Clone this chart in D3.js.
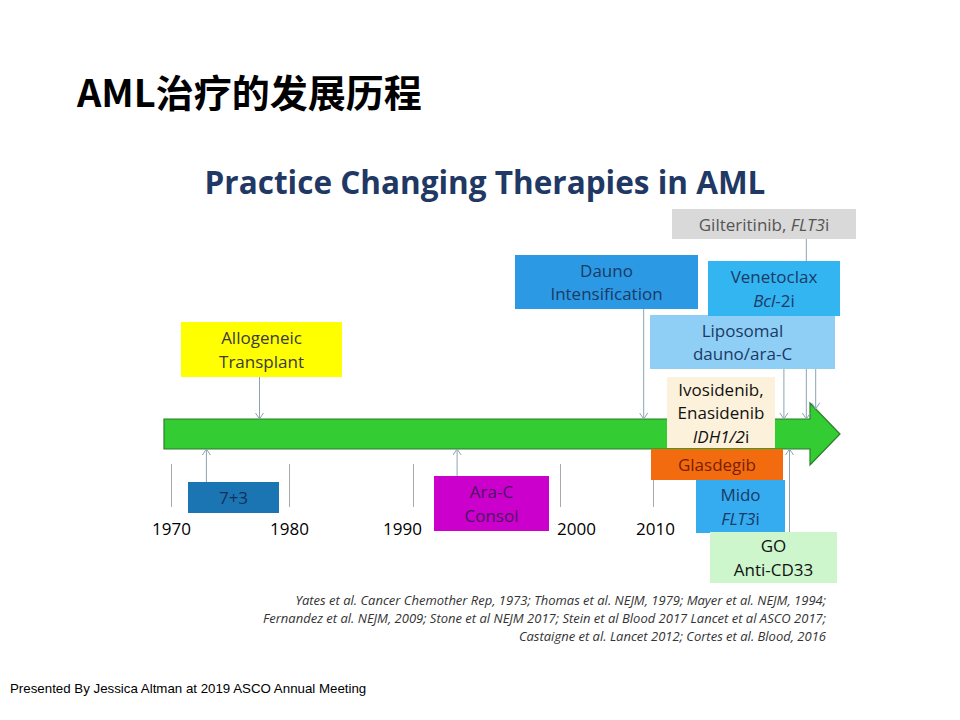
<!DOCTYPE html>
<html>
<head>
<meta charset="utf-8">
<script src="https://cdn.jsdelivr.net/npm/d3@7"></script>
<style>
  body { margin: 0; background: #fff; }
  svg { display: block; }
</style>
</head>
<body>
<svg id="chart"></svg>
<script>
// timeline ticks
const tickYears = [1970, 1980, 1990, 2000, 2010];

// therapies, "*...*" marks italic runs, "\n" breaks lines
const therapies = [
    "Gilteritinib, *FLT3*i",
    "Allogeneic\nTransplant",
    "Dauno\nIntensification",
    "7+3",
    "Ara-C\nConsol",
    "Liposomal\ndauno/ara-C",
    "Venetoclax\n*Bcl*-2i",
    "Ivosidenib,\nEnasidenib\n*IDH1/2*i",
    "Glasdegib",
    "Mido\n*FLT3*i",
    "GO\nAnti-CD33"
];
// year each pointer hits on the timeline
const therapyYears = [2018.2, 1977.5, 2009, 1973, 1993, 2017, 2018.7, 2017, 2018, 2017, 2017.3];

const citations = [
    "Yates et al. Cancer Chemother Rep, 1973; Thomas et al. NEJM, 1979; Mayer et al. NEJM, 1994;",
    "Fernandez et al. NEJM, 2009; Stone et al NEJM 2017; Stein et al Blood 2017 Lancet et al ASCO 2017;",
    "Castaigne et al. Lancet 2012; Cortes et al. Blood, 2016"
];

const pageTitle = "AML治疗的发展历程";
const chartTitle = "Practice Changing Therapies in AML";
const footer = "Presented By Jessica Altman at 2019 ASCO Annual Meeting";

// box styling + placement on the slide
const boxFill = ["#d9d9d9", "#ffff00", "#2b99e4", "#1c75b3", "#cc00cc", "#8fcff5",
                 "#33b5f1", "#fcf2dc", "#f26b0e", "#35acf0", "#cdf6cd"];
const boxText = ["#555555", "#3a3a3a", "#1b3a66", "#12305a", "#4a1660", "#1b3a66",
                 "#1b3a66", "#111111", "#7a1e05", "#1b3a66", "#111111"];
const boxLayout = [
    { x: 672, y: 209, w: 184, h: 30, dir: "down" },
    { x: 181, y: 322, w: 161, h: 55, dir: "down" },
    { x: 515, y: 255, w: 183, h: 54, dir: "down" },
    { x: 188, y: 482, w: 91,  h: 31, dir: "up" },
    { x: 434, y: 476, w: 115, h: 55, dir: "up" },
    { x: 650, y: 315, w: 185, h: 54, dir: "down" },
    { x: 708, y: 261, w: 132, h: 55, dir: "down" },
    { x: 667, y: 377, w: 108, h: 71, dir: null },
    { x: 651, y: 449, w: 132, h: 31, dir: null },
    { x: 696, y: 480, w: 89,  h: 53, dir: null },
    { x: 710, y: 532, w: 127, h: 51, dir: "up" }
];

const width = 960, height = 720;
const font = "'Open Sans', 'Noto Sans', sans-serif";

const svg = d3.select("#chart")
    .attr("width", width)
    .attr("height", height);

// slide is hand laid out, so the year spacing is not even
const x = d3.scaleLinear()
    .domain([1970, 1980, 1990, 2000, 2010, 2020])
    .range([171, 289, 413, 560, 653, 840]);

// big arrow
const bar = { x0: x(1970) - 7, top: 419, bottom: 449, headX: 810, headTop: 403, headBottom: 465 };
bar.mid = (bar.top + bar.bottom) / 2;
bar.tip = x(2020);

svg.append("path")
    .attr("d", `M${bar.x0},${bar.top} H${bar.headX} V${bar.headTop} L${bar.tip},${bar.mid}
                L${bar.headX},${bar.headBottom} V${bar.bottom} H${bar.x0} Z`)
    .attr("fill", "#33cc33")
    .attr("stroke", "#2a7d2a")
    .attr("stroke-width", 1.2);

// year axis
const axisG = svg.append("g")
    .attr("transform", "translate(0,464)")
    .call(d3.axisBottom(x).tickValues(tickYears).tickFormat(d3.format("d")).tickSize(43).tickPadding(16));
axisG.select(".domain").remove();
axisG.selectAll(".tick line").attr("stroke", "#a9a9a9");
axisG.selectAll(".tick text")
    .attr("fill", "#000")
    .style("font-family", font)
    .style("font-size", "17px")
    .attr("dx", d => d === 1990 ? -11 : d === 2000 ? 16 : d === 2010 ? 2 : 0);

// edge of the arrow at a given x
function barEdge(px, dir) {
    if (px <= bar.headX) return dir === "down" ? bar.top : bar.bottom;
    const t = (px - bar.headX) / (bar.tip - bar.headX);
    return dir === "down" ? bar.headTop + t * (bar.mid - bar.headTop)
                          : bar.headBottom - t * (bar.headBottom - bar.mid);
}

// pointers
const items = therapies.map((t, i) => ({ label: t, year: therapyYears[i], fill: boxFill[i], color: boxText[i], ...boxLayout[i] }));

svg.append("g")
    .selectAll("path")
    .data(items.filter(d => d.dir))
    .join("path")
    .attr("fill", "none")
    .attr("stroke", "#8da3b3")
    .attr("stroke-width", 1)
    .attr("d", d => {
        const px = x(d.year);
        const y0 = d.dir === "down" ? d.y + d.h : d.y;
        const y1 = barEdge(px, d.dir);
        const s = d.dir === "down" ? -1 : 1;
        return `M${px},${y0} V${y1} M${px - 4},${y1 + s * 6} L${px},${y1} L${px + 4},${y1 + s * 6}`;
    });

// boxes
const boxes = svg.append("g")
    .selectAll("g")
    .data(items)
    .join("g");

boxes.append("rect")
    .attr("x", d => d.x)
    .attr("y", d => d.y)
    .attr("width", d => d.w)
    .attr("height", d => d.h)
    .attr("fill", d => d.fill);

const lh = 23.5;
boxes.each(function (d) {
    const lines = d.label.split("\n");
    const g = d3.select(this);
    const cy = d.y + d.h / 2;
    lines.forEach((ln, k) => {
        const txt = g.append("text")
            .attr("x", d.x + d.w / 2)
            .attr("y", cy - (lines.length - 1) * lh / 2 + k * lh + 6.5)
            .attr("text-anchor", "middle")
            .attr("fill", d.color)
            .style("font-family", font)
            .style("font-size", "17px");
        ln.split("*").forEach((part, j) => {
            if (!part) return;
            txt.append("tspan")
                .style("font-style", j % 2 ? "italic" : "normal")
                .text(part);
        });
    });
});

// titles
svg.append("text")
    .attr("x", 77)
    .attr("y", 107)
    .attr("fill", "#000")
    .style("font-family", "'Noto Sans CJK SC', sans-serif")
    .style("font-weight", 700)
    .style("font-size", "38px")
    .text(pageTitle);

svg.append("text")
    .attr("x", 485)
    .attr("y", 194)
    .attr("text-anchor", "middle")
    .attr("fill", "#1f3864")
    .style("font-family", font)
    .style("font-weight", 700)
    .style("font-size", "31.5px")
    .text(chartTitle);

// references
svg.append("g")
    .selectAll("text")
    .data(citations)
    .join("text")
    .attr("x", 826)
    .attr("y", (d, i) => 605 + i * 18)
    .attr("text-anchor", "end")
    .attr("fill", "#333")
    .style("font-family", font)
    .style("font-style", "italic")
    .style("font-size", "13px")
    .text(d => d);

svg.append("text")
    .attr("x", 10)
    .attr("y", 693)
    .attr("fill", "#000")
    .style("font-family", "'Liberation Sans', Arial, sans-serif")
    .style("font-size", "13.3px")
    .text(footer);
</script>
</body>
</html>
